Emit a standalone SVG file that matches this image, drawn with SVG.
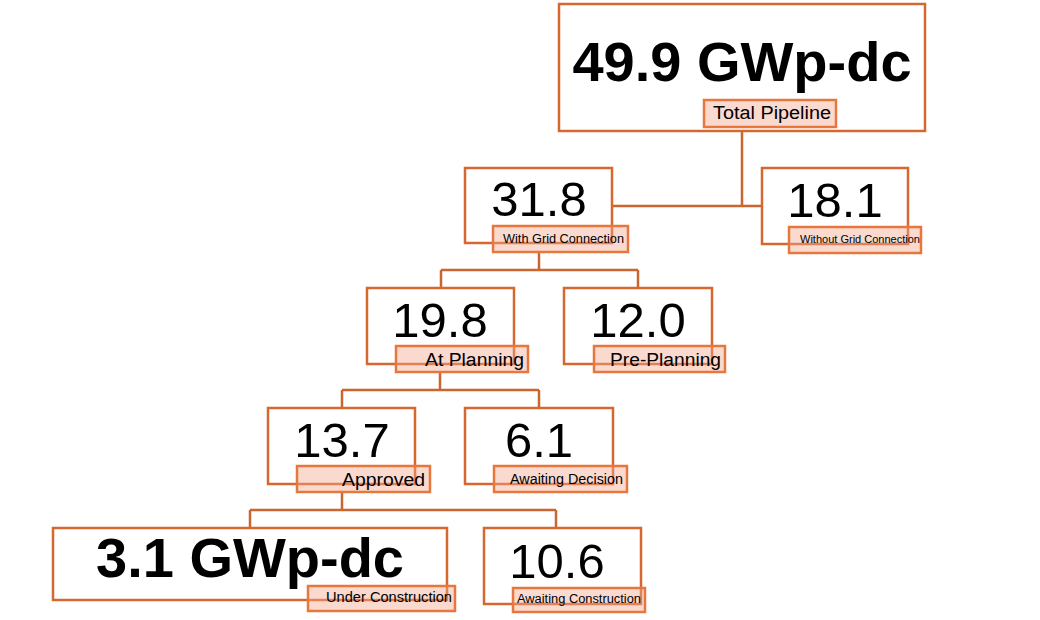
<svg xmlns="http://www.w3.org/2000/svg" width="1040" height="620" viewBox="0 0 1040 620">
<style>
.box{fill:#fff;stroke:#d6682f;stroke-width:2.5}
.lab{fill:#f2a58c;fill-opacity:0.42;stroke:#e8773e;stroke-width:2.5}
.con{fill:none;stroke:#c9652f;stroke-width:2.5}
.num{font-family:"Liberation Sans",Arial,sans-serif;font-size:49px;fill:#000;text-anchor:middle}
.big{font-family:"Liberation Sans",Arial,sans-serif;font-size:56px;font-weight:bold;fill:#000;text-anchor:middle}
.t{font-family:"Liberation Sans",Arial,sans-serif;fill:#000}
</style>
<rect width="1040" height="620" fill="#fff"/>
<g id="connectors">
<path class="con" d="M742 131V206M612 206H762"/>
<path class="con" d="M539 252V270M441 270H638M441 270V288M638 270V288"/>
<path class="con" d="M440 372V390M342 390H539M342 390V408M539 390V408"/>
<path class="con" d="M342 492V510M250 510H556M250 510V528M556 510V528"/>
</g>
<g id="total">
<rect class="box" x="559" y="4" width="366" height="127"/>
<text class="big" x="742" y="81">49.9 GWp-dc</text>
<rect class="lab" x="704" y="100" width="132" height="27"/>
<text class="t" x="713" y="119" font-size="18" textLength="118" lengthAdjust="spacingAndGlyphs">Total Pipeline</text>
</g>
<g id="with-grid">
<rect class="box" x="465" y="168" width="147" height="75"/>
<text class="num" x="539" y="216">31.8</text>
<rect class="lab" x="493" y="226" width="135" height="26"/>
<text class="t" x="503" y="243" font-size="12.5" textLength="121" lengthAdjust="spacingAndGlyphs">With Grid Connection</text>
</g>
<g id="without-grid">
<rect class="box" x="762" y="168" width="146" height="76"/>
<text class="num" x="835" y="217">18.1</text>
<rect class="lab" x="789" y="227" width="132" height="26"/>
<text class="t" x="800" y="243" font-size="11.5" textLength="120" lengthAdjust="spacingAndGlyphs">Without Grid Connection</text>
</g>
<g id="at-planning">
<rect class="box" x="367" y="288" width="147" height="76"/>
<text class="num" x="440" y="337">19.8</text>
<rect class="lab" x="396" y="346" width="132" height="26"/>
<text class="t" x="425" y="366" font-size="18" textLength="99" lengthAdjust="spacingAndGlyphs">At Planning</text>
</g>
<g id="pre-planning">
<rect class="box" x="564" y="288" width="148" height="76"/>
<text class="num" x="638" y="337">12.0</text>
<rect class="lab" x="594" y="346" width="131" height="26"/>
<text class="t" x="610" y="366" font-size="18" textLength="111" lengthAdjust="spacingAndGlyphs">Pre-Planning</text>
</g>
<g id="approved">
<rect class="box" x="268" y="408" width="147" height="76"/>
<text class="num" x="342" y="457">13.7</text>
<rect class="lab" x="297" y="466" width="133" height="26"/>
<text class="t" x="342" y="486" font-size="18" textLength="83" lengthAdjust="spacingAndGlyphs">Approved</text>
</g>
<g id="awaiting-decision">
<rect class="box" x="465" y="408" width="148" height="76"/>
<text class="num" x="539" y="457">6.1</text>
<rect class="lab" x="494" y="466" width="133" height="26"/>
<text class="t" x="510" y="484" font-size="14" textLength="113" lengthAdjust="spacingAndGlyphs">Awaiting Decision</text>
</g>
<g id="under-construction">
<rect class="box" x="53" y="528" width="394" height="72"/>
<text class="big" x="250" y="577">3.1 GWp-dc</text>
<rect class="lab" x="308" y="586" width="147" height="25"/>
<text class="t" x="326" y="602" font-size="14" textLength="126" lengthAdjust="spacingAndGlyphs">Under Construction</text>
</g>
<g id="awaiting-construction">
<rect class="box" x="484" y="528" width="157" height="76"/>
<text class="num" x="557" y="578">10.6</text>
<rect class="lab" x="513" y="588" width="132" height="24"/>
<text class="t" x="517" y="603" font-size="12" textLength="124" lengthAdjust="spacingAndGlyphs">Awaiting Construction</text>
</g>
</svg>
